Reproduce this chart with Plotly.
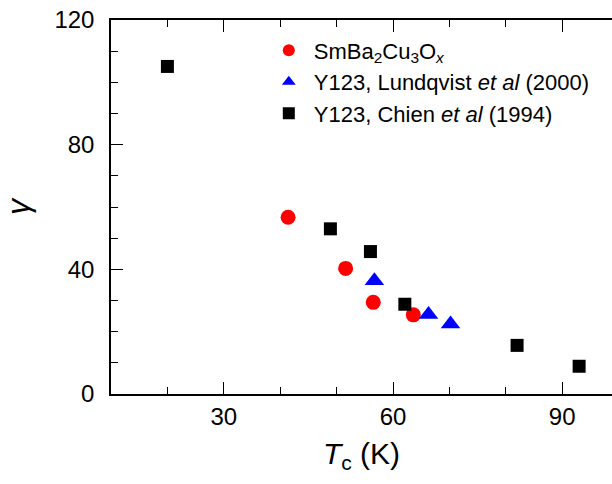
import plotly.graph_objects as go

# Data
sm_tc = [41.4, 51.6, 56.5, 63.6]
sm_gamma = [56.7, 40.3, 29.4, 25.4]

lund_tc = [56.7, 66.3, 70.2]
lund_gamma = [36.3, 25.5, 22.5]

chien_tc = [20.0, 48.9, 56.0, 62.1, 82.0, 93.0]
chien_gamma = [105.1, 53.0, 45.7, 28.8, 15.6, 8.9]

x_range = [10, 98.83]
y_range = [0, 120]

names = [
    "SmBa<sub>2</sub>Cu<sub>3</sub>O<sub><i>x</i></sub>",
    "Y123, Lundqvist <i>et al</i> (2000)",
    "Y123, Chien <i>et al</i> (1994)",
]

FONT = "Arial, Liberation Sans, sans-serif"

fig = go.Figure()
fig.add_trace(go.Scatter(x=sm_tc, y=sm_gamma, mode="markers", name=names[0],
                         marker=dict(symbol="circle", size=15, color="#FF0000")))
fig.add_trace(go.Scatter(x=lund_tc, y=lund_gamma, mode="markers", name=names[1],
                         marker=dict(symbol="triangle-up", size=17, color="#0000FF")))
fig.add_trace(go.Scatter(x=chien_tc, y=chien_gamma, mode="markers", name=names[2],
                         marker=dict(symbol="square", size=13, color="#000000")))
# invisible helper trace so the top tick axis is drawn
fig.add_trace(go.Scatter(x=chien_tc, y=chien_gamma, xaxis="x2", mode="markers",
                         marker=dict(opacity=0), showlegend=False, hoverinfo="skip"))

minor_ticks = dict(ticks="inside", ticklen=7, tickwidth=1.3, tickcolor="black", dtick=10, tick0=0)

fig.update_layout(
    width=612, height=484,
    margin=dict(l=111, r=0, t=20, b=90),
    plot_bgcolor="white", paper_bgcolor="white",
    font=dict(family=FONT, color="black", size=24),
    showlegend=True,
    legend=dict(x=0.305, y=0.975, xanchor="left", yanchor="top",
                bgcolor="rgba(0,0,0,0)", font=dict(size=22, family=FONT),
                itemsizing="constant", itemwidth=40, tracegroupgap=0),
    xaxis=dict(
        range=x_range, tick0=0, dtick=30, showgrid=False, zeroline=False,
        showline=True, linecolor="black", linewidth=1.5, mirror="ticks",
        ticks="inside", ticklen=12, tickwidth=1.3, tickcolor="black",
        minor=minor_ticks,
        tickfont=dict(size=24), ticklabelstandoff=0,
        title=dict(text="<i>T</i><sub>c</sub> (K)", font=dict(size=30), standoff=14),
    ),
    xaxis2=dict(
        range=x_range, matches="x", overlaying="x", side="top", anchor="y",
        tick0=0, dtick=30, showgrid=False, zeroline=False, showline=False,
        ticks="inside", ticklen=12, tickwidth=1.3, tickcolor="black",
        minor=minor_ticks, showticklabels=False,
    ),
    yaxis=dict(
        range=y_range, tick0=0, dtick=40, showgrid=False, zeroline=False,
        showline=True, linecolor="black", linewidth=1.5, mirror=False,
        ticks="inside", ticklen=12, tickwidth=1.3, tickcolor="black",
        minor=minor_ticks,
        tickfont=dict(size=24), ticklabelstandoff=10,
        title=dict(text="<i>γ</i>", font=dict(size=32), standoff=16),
    ),
)

fig.write_html("out.html")
